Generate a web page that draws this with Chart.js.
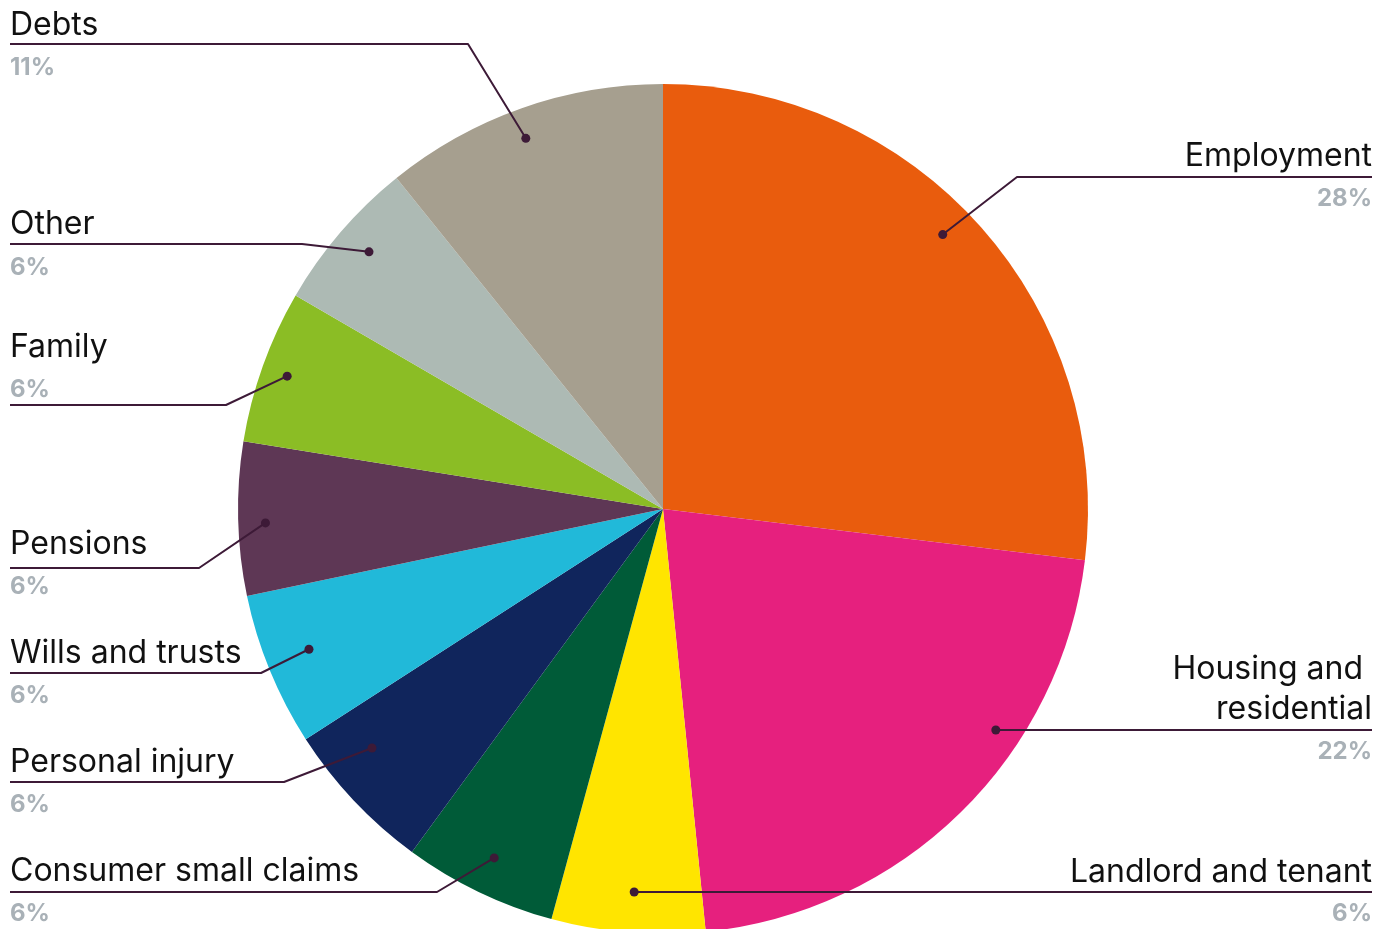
<!DOCTYPE html>
<html>
<head>
<meta charset="utf-8">
<script src="https://cdn.jsdelivr.net/npm/chart.js@4/dist/chart.umd.min.js"></script>
<style>
  html, body { margin: 0; padding: 0; background: #ffffff; overflow: hidden; }
  #wrap { position: relative; width: 1392px; height: 1018px; }
</style>
</head>
<body>
<div id="wrap"><canvas id="c" width="1392" height="1018"></canvas></div>
<script>
// ---- data ----
const categories = ["Employment", "Housing and residential", "Landlord and tenant", "Consumer small claims",
  "Personal injury", "Wills and trusts", "Pensions", "Family", "Other", "Debts"];
const shares = [27.7, 22.1, 6, 6, 6, 6, 6, 6, 6, 11.1];
const shareLabels = ["28%", "22%", "6%", "6%", "6%", "6%", "6%", "6%", "6%", "11%"];
const nameLines = [["Employment"], ["Housing and ", "residential"], ["Landlord and tenant"], ["Consumer small claims"],
  ["Personal injury"], ["Wills and trusts"], ["Pensions"], ["Family"], ["Other"], ["Debts"]];
const sliceColors = ["#e95c0d", "#e6207e", "#ffe500", "#005b38", "#10255c", "#21b9d9", "#5e3755", "#8bbd25", "#adbab4", "#a69f8f"];

// ---- label layout (positions only) ----
const labelLayout = [
  { side: "right", nameY: [166], lineY: 177, pctY: 206, bendX: 1017, af: 0.47, rf: 0.922 },
  { side: "right", nameY: [679, 719], lineY: 730, pctY: 759, bendX: null, af: 0.345, rf: 0.94 },
  { side: "right", nameY: [882], lineY: 892, pctY: 921, bendX: null, af: 0.48, rf: 0.904, maxW: 302 },
  { side: "left", nameY: [881], lineY: 892, pctY: 921, bendX: 437, af: 0.505, rf: 0.912 },
  { side: "left", nameY: [772], lineY: 782, pctY: 812, bendX: 284, af: 0.686, rf: 0.886 },
  { side: "left", nameY: [663], lineY: 673, pctY: 703, bendX: 261, af: 0.533, rf: 0.896 },
  { side: "left", nameY: [554], lineY: 568, pctY: 594, bendX: 199, af: 0.467, rf: 0.936 },
  { side: "left", nameY: [357], lineY: 405, pctY: 397, bendX: 226, af: 0.49, rf: 0.938 },
  { side: "left", nameY: [234], lineY: 244, pctY: 275, bendX: 302, af: 0.524, rf: 0.919 },
  { side: "left", nameY: [35], lineY: 44, pctY: 75, bendX: 468, af: 0.477, rf: 0.93 }
];

const LEFT_X = 10, RIGHT_X = 1372;
const LINE_COLOR = "#3d1a37";

const calloutPlugin = {
  id: "callouts",
  afterDatasetsDraw(chart) {
    const ctx = chart.ctx;
    const meta = chart.getDatasetMeta(0);
    ctx.save();
    meta.data.forEach((arc, i) => {
      const L = labelLayout[i];
      const p = arc.getProps(["x", "y", "startAngle", "endAngle", "outerRadius"], true);
      const a = p.startAngle + L.af * (p.endAngle - p.startAngle);
      const r = L.rf * p.outerRadius;
      const dx = p.x + r * Math.cos(a);
      const dy = p.y + r * Math.sin(a);
      const edgeX = L.side === "left" ? LEFT_X : RIGHT_X;

      // leader line
      ctx.beginPath();
      ctx.strokeStyle = LINE_COLOR;
      ctx.lineWidth = 2;
      ctx.lineJoin = "round";
      ctx.moveTo(edgeX, L.lineY);
      if (L.bendX !== null) {
        ctx.lineTo(L.bendX, L.lineY);
        ctx.lineTo(dx, dy);
      } else {
        ctx.lineTo(dx, L.lineY);
      }
      ctx.stroke();

      // dot
      ctx.beginPath();
      ctx.fillStyle = LINE_COLOR;
      ctx.arc(dx, L.bendX !== null ? dy : L.lineY, 4.5, 0, Math.PI * 2);
      ctx.fill();

      // texts
      ctx.textAlign = L.side === "left" ? "left" : "right";
      ctx.textBaseline = "alphabetic";
      ctx.fillStyle = "#111111";
      ctx.font = "400 32px Inter, 'Open Sans', sans-serif";
      nameLines[i].forEach((t, k) => {
        if (L.maxW) ctx.fillText(t, edgeX, L.nameY[k], L.maxW);
        else ctx.fillText(t, edgeX, L.nameY[k]);
      });
      ctx.fillStyle = "#a9b1b7";
      ctx.font = "700 24px Inter, 'Open Sans', sans-serif";
      ctx.fillText(shareLabels[i], edgeX, L.pctY);
    });
    ctx.restore();
  }
};

new Chart(document.getElementById("c"), {
  type: "pie",
  data: {
    labels: categories,
    datasets: [{
      data: shares,
      backgroundColor: sliceColors,
      borderWidth: 0,
      hoverOffset: 0
    }]
  },
  options: {
    responsive: false,
    animation: false,
    layout: { padding: { top: 84, bottom: 84, left: 0, right: 66 } },
    plugins: {
      legend: { display: false },
      tooltip: { enabled: false }
    },
    events: []
  },
  plugins: [calloutPlugin]
});
</script>
</body>
</html>
